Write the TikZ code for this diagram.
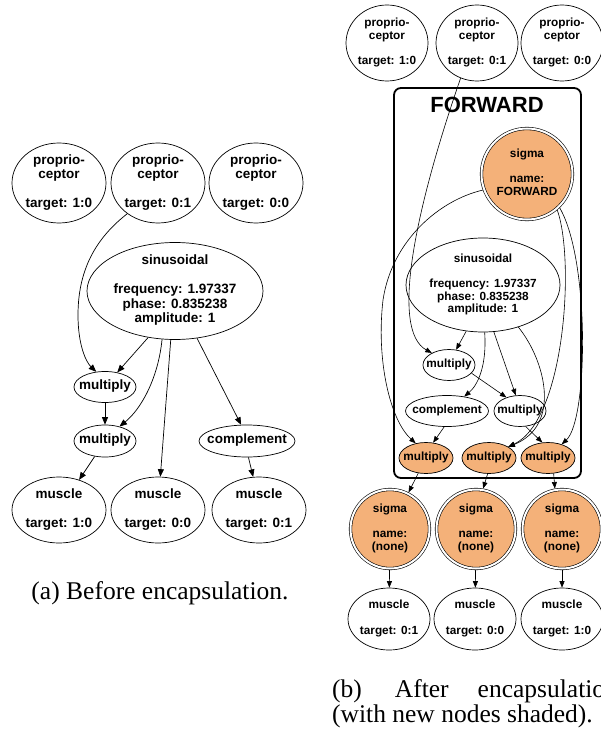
\documentclass[tikz,border=0pt]{standalone}
\usepackage{fontspec}
\setmainfont{Liberation Serif}
\setsansfont{Liberation Sans}
\usetikzlibrary{shapes.geometric,arrows.meta}

\definecolor{encfill}{RGB}{244,177,121}

% fonts of the two graphs and of the captions
\newcommand\gvleft{\fontsize{13.5}{14.4}\selectfont\sffamily\bfseries}
\newcommand\gvright{\fontsize{11.8}{12.6}\selectfont\sffamily\bfseries}
\newcommand\gvcap{\fontsize{25.5}{30}\selectfont\rmfamily}
% centred multi-line label that does not widen its shape
\newcommand\gvlines[1]{\smash{\makebox[0pt]{\raisebox{-0.25em}{\begin{tabular}{@{}c@{}}#1\end{tabular}}}}}

\tikzset{
  gv/.style={ellipse, draw, line width=0.7pt, inner sep=0pt, outer sep=0.35pt},
  lnode/.style={gv, font=\gvleft},
  rnode/.style={gv, font=\gvright},
  newnode/.style={fill=encfill},
  sigmanode/.style={circle, draw, line width=0.6pt, double=white, double distance=2pt,
    fill=encfill, inner sep=0pt, outer sep=1.6pt, minimum size=#1, font=\gvright},
  arr/.style={line width=0.7pt, -{Triangle[length=7.5pt,width=6pt]}},
  rarr/.style={line width=0.6pt, -{Triangle[length=6.5pt,width=5pt]}},
}

\begin{document}
\begin{tikzpicture}[x=1pt,y=-1pt]
\useasboundingbox (0,0) rectangle (601,743);
\fill[white] (0,0) rectangle (601,743);
\clip (0,0) rectangle (601,743);

% ---------------- (a) before encapsulation ----------------
\node[lnode, minimum width=94pt, minimum height=80pt] (lp1) at (59,183) {\gvlines{proprio-\\ceptor\\ \\target: 1:0}};
\node[lnode, minimum width=94pt, minimum height=80pt] (lp2) at (158,183) {\gvlines{proprio-\\ceptor\\ \\target: 0:1}};
\node[lnode, minimum width=94pt, minimum height=80pt] (lp3) at (256,183) {\gvlines{proprio-\\ceptor\\ \\target: 0:0}};

\node[lnode, minimum width=176pt, minimum height=97pt] (lsin) at (175,291)
  {\gvlines{sinusoidal\\ \\frequency: 1.97337\\phase: 0.835238\\amplitude: 1}};

\node[lnode, minimum width=62pt, minimum height=31pt] (lm1) at (105,387) {\gvlines{multiply}};
\node[lnode, minimum width=62pt, minimum height=32pt] (lm2) at (105,441) {\gvlines{multiply}};
\node[lnode, minimum width=96pt, minimum height=32pt] (lcomp) at (247,441) {\gvlines{complement}};

\node[lnode, minimum width=94pt, minimum height=66pt] (lmu1) at (59,510) {\gvlines{muscle\\ \\target: 1:0}};
\node[lnode, minimum width=94pt, minimum height=66pt] (lmu2) at (158,510) {\gvlines{muscle\\ \\target: 0:0}};
\node[lnode, minimum width=94pt, minimum height=66pt] (lmu3) at (259,510) {\gvlines{muscle\\ \\target: 0:1}};

\draw[arr] (lp2.225) .. controls (100,235) and (78,265) .. (78,315)
                     .. controls (78,345) and (86,362) .. (lm1.120);
\draw[arr] (lsin.240) -- (lm1.50);
\draw[arr] (lm1) -- (lm2);
\draw[arr] (lsin.255) .. controls (158,380) and (140,410) .. (lm2.45);
\draw[arr] (lsin.265) -- (lmu2.86);
\draw[arr] (lsin.295) -- (lcomp.110);
\draw[arr] (lm2) -- (lmu1);
\draw[arr] (lcomp.275) -- (lmu3.100);

\node[font=\gvcap, anchor=base] (capa) at (160,599) {(a) Before encapsulation.};

% ---------------- (b) after encapsulation ----------------
\node[rnode, minimum width=82pt, minimum height=76pt] (rp1) at (387,43) {\gvlines{proprio-\\ceptor\\ \\target: 1:0}};
\node[rnode, minimum width=82pt, minimum height=76pt] (rp2) at (477,43) {\gvlines{proprio-\\ceptor\\ \\target: 0:1}};
\node[rnode, minimum width=82pt, minimum height=76pt] (rp3) at (562,43) {\gvlines{proprio-\\ceptor\\ \\target: 0:0}};

% the FORWARD module
\node[draw, line width=1.8pt, rounded corners=7pt, inner sep=0pt,
      minimum width=187pt, minimum height=390pt] (fwdbox) at (487.5,283) {};
\node[font=\fontsize{22}{24}\selectfont\sffamily\bfseries, inner sep=0pt] (fwdlabel) at (487,104.5) {FORWARD};

\node[sigmanode=91pt] (sigF) at (527,174) {\gvlines{sigma\\ \\name:\\FORWARD}};

\node[rnode, minimum width=154pt, minimum height=94pt] (rsin) at (483,285)
  {\gvlines{sinusoidal\\ \\frequency: 1.97337\\phase: 0.835238\\amplitude: 1}};

\node[rnode, minimum width=52pt, minimum height=31pt] (rm1) at (449,365) {\gvlines{multiply}};
\node[rnode, minimum width=83pt, minimum height=31pt] (rcomp) at (447,411) {\gvlines{complement}};
\node[rnode, minimum width=52pt, minimum height=31pt] (rm2) at (520,411) {\gvlines{multiply}};

\node[rnode, newnode, minimum width=54pt, minimum height=31pt] (oa) at (426,458) {\gvlines{multiply}};
\node[rnode, newnode, minimum width=54pt, minimum height=31pt] (ob) at (489,458) {\gvlines{multiply}};
\node[rnode, newnode, minimum width=54pt, minimum height=31pt] (oc) at (548,458) {\gvlines{multiply}};

\node[sigmanode=79pt] (s1) at (390,529) {\gvlines{sigma\\ \\name:\\(none)}};
\node[sigmanode=79pt] (s2) at (476,529) {\gvlines{sigma\\ \\name:\\(none)}};
\node[sigmanode=79pt] (s3) at (562,529) {\gvlines{sigma\\ \\name:\\(none)}};

\node[rnode, minimum width=82pt, minimum height=62pt] (rmu1) at (389,619) {\gvlines{muscle\\ \\target: 0:1}};
\node[rnode, minimum width=82pt, minimum height=62pt] (rmu2) at (475,619) {\gvlines{muscle\\ \\target: 0:0}};
\node[rnode, minimum width=82pt, minimum height=62pt] (rmu3) at (562,619) {\gvlines{muscle\\ \\target: 1:0}};

\draw[rarr] (rp2.245) .. controls (415,210) and (390,330) .. (rm1.145);
\draw[rarr] (sigF.200) .. controls (440,200) and (392,240) .. (383,300)
                       .. controls (376,360) and (390,420) .. (oa.125);
\draw[rarr] (rsin.250) -- (rm1.65);
\draw[rarr] (rsin.272) .. controls (487,365) and (478,385) .. (rcomp.40);
\draw[rarr] (rsin.283) -- (rm2.105);
\draw[rarr] (rsin.310) .. controls (545,360) and (562,425) .. (ob.30);
\draw[rarr] (sigF.-50) .. controls (575,260) and (565,420) .. (ob.30);
\draw[rarr] (sigF.-46) .. controls (590,260) and (588,420) .. (oc.45);
\draw[rarr] (rm1.-20) -- (rm2.135);
\draw[rarr] (rcomp.260) -- (oa.65);
\draw[rarr] (rm2.290) -- (oc.110);
\draw[rarr] (oa) -- (s1);
\draw[rarr] (ob.265) -- (s2.80);
\draw[rarr] (oc.290) -- (s3.100);
\draw[rarr] (s1) -- (rmu1);
\draw[rarr] (s2) -- (rmu2);
\draw[rarr] (s3) -- (rmu3);

\node[font=\gvcap, anchor=base west, inner sep=0pt] (capb1) at (332,697)
  {(b)\hspace{33pt}After\hspace{29pt}encapsulation};
\node[font=\gvcap, anchor=base west, inner sep=0pt] (capb2) at (332,722)
  {(with new nodes shaded).};
\end{tikzpicture}
\end{document}
